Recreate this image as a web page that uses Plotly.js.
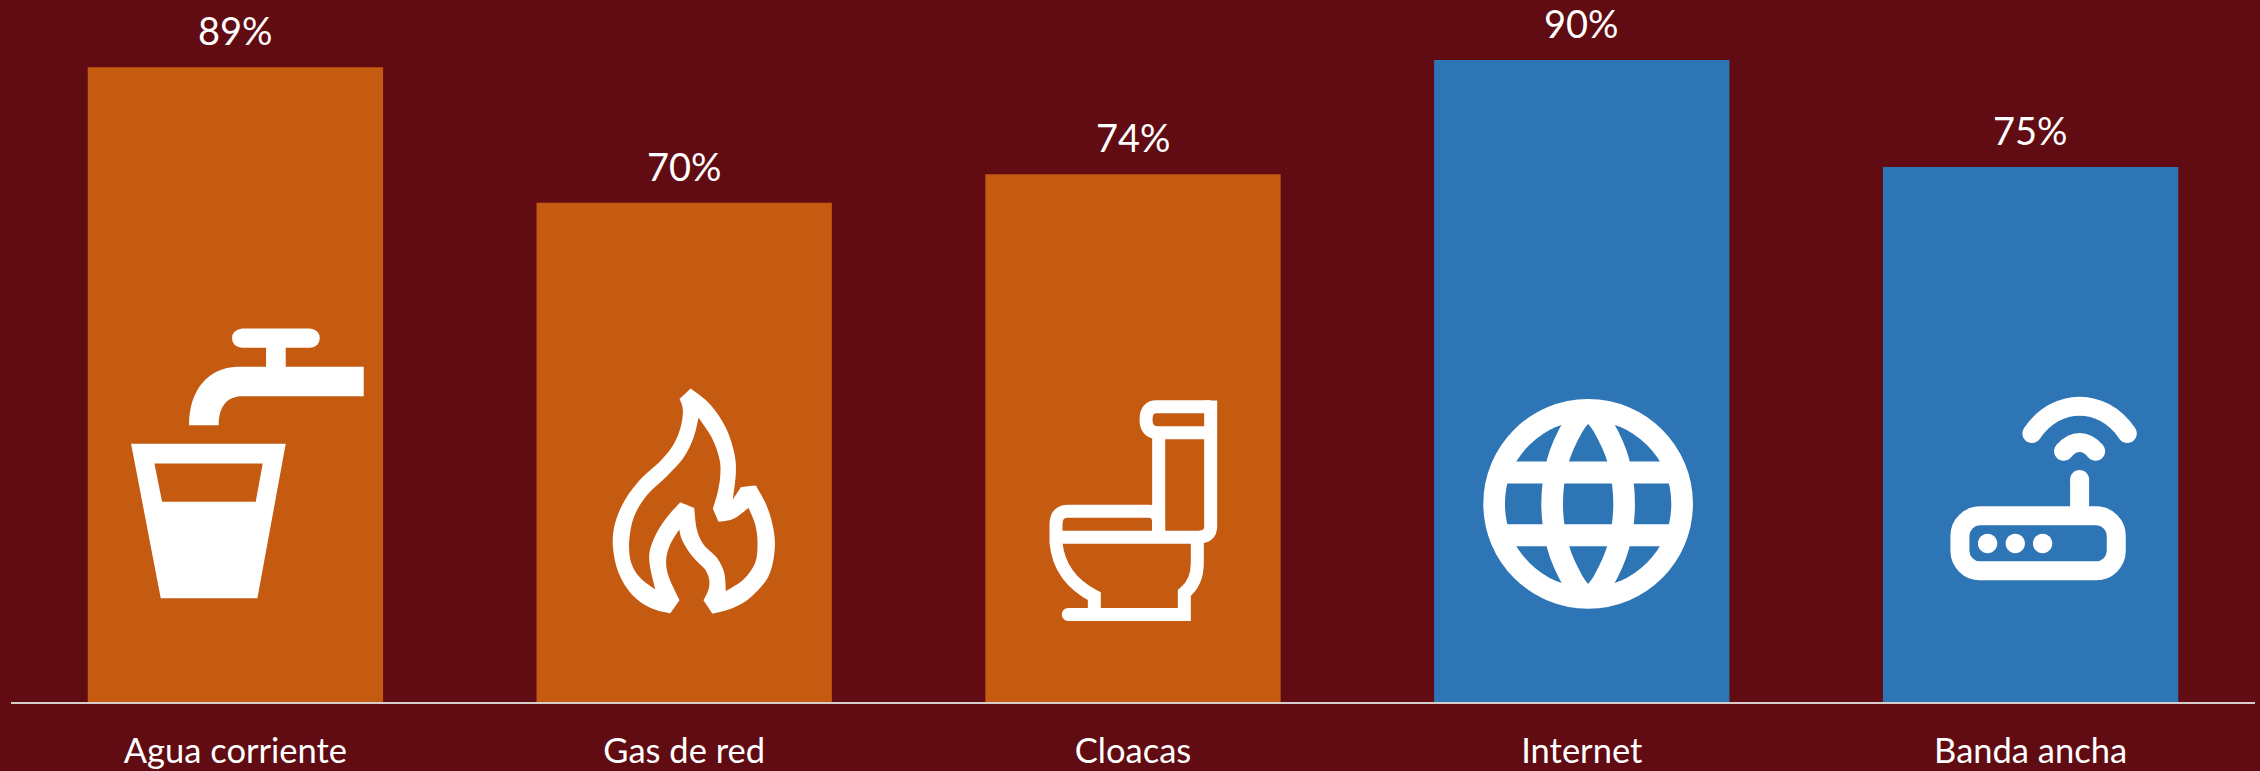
<!DOCTYPE html>
<html>
<head>
<meta charset="utf-8">
<script src="https://cdn.plot.ly/plotly-3.0.1.min.js"></script>
<style>html,body{margin:0;padding:0;background:#610b12;overflow:hidden}</style>
</head>
<body>
<div id="chart" style="width:2260px;height:771px"></div>
<script>
// Acceso a servicios del hogar (%)
const categories = ["Agua corriente", "Gas de red", "Cloacas", "Internet", "Banda ancha"];
const coverage = [89, 70, 74, 90, 75];
const barColors = ["#C55A11", "#C55A11", "#C55A11", "#2E75B6", "#2E75B6"];

const BG = "#610b12";
const WHITE = "#ffffff";
const FONT = "Lato, 'Open Sans', sans-serif";

// Plot frame in page pixels
const plotLeft = 10.5, plotRight = 2255.5, plotTop = 2.8, baseline = 702.5;
const band = (plotRight - plotLeft) / categories.length;

// Icons are sketched on a 3-units-per-pixel grid around an origin, then
// anchored to their bar's category on the axis so they follow the bar.
function toLocal(d, barIndex, ox, oy) {
  const cx = plotLeft + band * (barIndex + 0.5);
  return d.replace(/(-?\d+\.?\d*)[ ,]+(-?\d+\.?\d*)/g, (m, x, y) =>
    (ox + x / 3 - cx).toFixed(2) + "," + (baseline - oy - y / 3).toFixed(2));
}
function smooth(runs, closed) {
  // Catmull-Rom through each run; runs meet at sharp corners
  let d = "";
  runs.forEach((p, r) => {
    if (r === 0) d += `M${p[0][0]} ${p[0][1]}`;
    for (let i = 0; i < p.length - 1; i++) {
      const a = p[Math.max(i - 1, 0)], b = p[i], c = p[i + 1], e = p[Math.min(i + 2, p.length - 1)];
      d += `C${b[0] + (c[0] - a[0]) / 6} ${b[1] + (c[1] - a[1]) / 6} ${c[0] - (e[0] - b[0]) / 6} ${c[1] - (e[1] - b[1]) / 6} ${c[0]} ${c[1]}`;
    }
  });
  return d + (closed ? "Z" : "");
}
function ellipse(cx, cy, rx, ry) {
  const k = 0.5523;
  return `M${cx - rx} ${cy}C${cx - rx} ${cy - k * ry} ${cx - k * rx} ${cy - ry} ${cx} ${cy - ry}` +
    `C${cx + k * rx} ${cy - ry} ${cx + rx} ${cy - k * ry} ${cx + rx} ${cy}` +
    `C${cx + rx} ${cy + k * ry} ${cx + k * rx} ${cy + ry} ${cx} ${cy + ry}` +
    `C${cx - k * rx} ${cy + ry} ${cx - rx} ${cy + k * ry} ${cx - rx} ${cy}Z`;
}
function solid(d, barIndex, ox, oy) {
  return {
    type: "path", xref: "x", yref: "y", xsizemode: "pixel", ysizemode: "pixel",
    xanchor: barIndex, yanchor: 0, path: toLocal(d, barIndex, ox, oy),
    fillcolor: WHITE, line: { width: 0 }, fillrule: "evenodd"
  };
}
function stroked(d, width, barIndex, ox, oy) {
  return {
    type: "path", xref: "x", yref: "y", xsizemode: "pixel", ysizemode: "pixel",
    xanchor: barIndex, yanchor: 0, path: toLocal(d, barIndex, ox, oy),
    fillcolor: "rgba(0,0,0,0)", line: { color: WHITE, width: width / 3 }
  };
}

const shapes = [];

// Grifo y vaso
[
  "M485 87L690 87Q718 92 718 116Q718 140 690 145L485 145Q455 140 455 116Q455 92 485 87Z",
  "M557 140L616 140L616 210L557 210Z",
  "M850 202L850 290L480 290C440 293 415 320 415 377L326 377C326 270 385 205 470 202Z",
  "M152 433L616 433L531 896L241 896ZM222 492L547 492L526 607L245 607Z"
].forEach(d => shapes.push(solid(d, 0, 80, 300)));

// Llama: contorno exterior y hueco interior
const flameOuter = smooth([
  [[392, 87], [450, 135], [497, 205], [522, 280], [527, 340], [518, 420]],
  [[518, 420], [542, 383]],
  [[542, 383], [587, 378]],
  [[587, 378], [620, 440], [640, 510], [643, 575], [625, 650], [575, 710], [520, 745], [457, 763]],
  [[457, 763], [430, 722]],
  [[430, 722], [445, 690], [447, 660], [435, 630], [410, 605], [385, 575], [365, 540], [357, 510]],
  [[357, 510], [330, 555], [318, 600], [325, 650], [358, 722]],
  [[358, 722], [330, 762]],
  [[330, 762], [270, 745], [215, 705], [175, 640], [158, 560], [165, 490], [195, 420], [245, 355], [300, 305], [340, 255], [362, 200], [368, 150], [358, 118]],
  [[358, 118], [392, 87]]
], true);
const flameInner = smooth([
  [[415, 175], [455, 235], [478, 300], [480, 350], [472, 400], [458, 448]],
  [[458, 448], [475, 487]],
  [[475, 487], [520, 478], [565, 445]],
  [[565, 445], [585, 495], [592, 550], [585, 610], [550, 660], [497, 695]],
  [[497, 695], [492, 640], [470, 595], [430, 555], [410, 510], [402, 445]],
  [[402, 445], [360, 428]],
  [[360, 428], [315, 480], [280, 540], [267, 600], [285, 690]],
  [[285, 690], [240, 655], [213, 610], [207, 545], [222, 470], [262, 405], [320, 350], [370, 295], [400, 235], [415, 175]]
], true);
shapes.push(solid(flameOuter + flameInner, 1, 560, 360));

// Inodoro
[
  "M632 112L470 112Q438 112 438 150Q438 190 476 190L632 190",
  "M632 93L632 470Q632 503 595 503L168 503",
  "M476 190L476 503",
  "M476 503L476 460Q476 425 445 425L205 425Q168 425 168 465L168 520C175 590 215 645 283 680L283 735",
  "M205 735L553 735L553 670Q592 640 592 580L592 503"
].forEach(d => shapes.push(stroked(d, 39, 2, 1000, 370)));
shapes.push(solid(ellipse(205, 735, 19.5, 19.5), 2, 1000, 370));

// Globo: aro, meridianos y paralelos
shapes.push(stroked(ellipse(415, 373, 282, 282), 65, 3, 1450, 380));
shapes.push(stroked(smooth([[[415, 85], [370, 140], [324, 245], [307, 373], [324, 500], [370, 606], [415, 661]]], false), 65, 3, 1450, 380));
shapes.push(stroked(smooth([[[415, 85], [460, 140], [506, 245], [523, 373], [506, 500], [460, 606], [415, 661]]], false), 65, 3, 1450, 380));
shapes.push(stroked("M149 279L681 279", 66, 3, 1450, 380));
shapes.push(stroked("M149 467L681 467", 66, 3, 1450, 380));

// Router
[
  "M241 439L590 439C623 439 650 466 650 499L650 544C650 577 623 604 590 604L241 604C208 604 181 577 181 544L181 499C181 466 208 439 241 439Z",
  "M540 330L540 425",
  "M397 192C435 135 490 110 540 110C590 110 645 135 683 192",
  "M492 245C505 230 522 219 540 219C558 219 575 230 588 245"
].forEach(d => shapes.push(stroked(d, 57, 4, 1900, 370)));
[[264, 522, 29], [347, 522, 29], [429, 522, 29], [540, 330, 28.5], [397, 192, 28.5], [683, 192, 28.5], [492, 245, 28.5], [588, 245, 28.5]]
  .forEach(c => shapes.push(solid(ellipse(c[0], c[1], c[2], c[2]), 4, 1900, 370)));

const pxPerUnit = 7.14;
const annotations = categories.map((c, i) => ({
  x: c, y: coverage[i], xref: "x", yref: "y", text: coverage[i] + "%",
  showarrow: false, yanchor: "bottom", yshift: 12,
  font: { family: FONT, size: 38, color: WHITE }
}));

Plotly.newPlot("chart", [{
  type: "bar",
  x: categories,
  y: coverage,
  marker: { color: barColors, line: { width: 0 } },
  hoverinfo: "x+y",
  cliponaxis: false
}], {
  width: 2260, height: 771,
  margin: { l: plotLeft, r: 2260 - plotRight, t: plotTop, b: 771 - baseline, pad: 0 },
  paper_bgcolor: BG, plot_bgcolor: BG,
  bargap: 0.342,
  showlegend: false,
  font: { family: FONT, color: WHITE },
  xaxis: {
    type: "category", range: [-0.5, 4.5], fixedrange: true,
    showline: true, linecolor: "#d6cccc", linewidth: 2,
    showgrid: false, zeroline: false,
    ticks: "outside", ticklen: 18, tickcolor: "rgba(0,0,0,0)",
    tickfont: { family: FONT, size: 34.5, color: WHITE }
  },
  yaxis: {
    range: [0, (baseline - plotTop) / pxPerUnit], fixedrange: true, visible: false
  },
  shapes: shapes,
  annotations: annotations
}, { displayModeBar: false, staticPlot: true });
</script>
</body>
</html>
